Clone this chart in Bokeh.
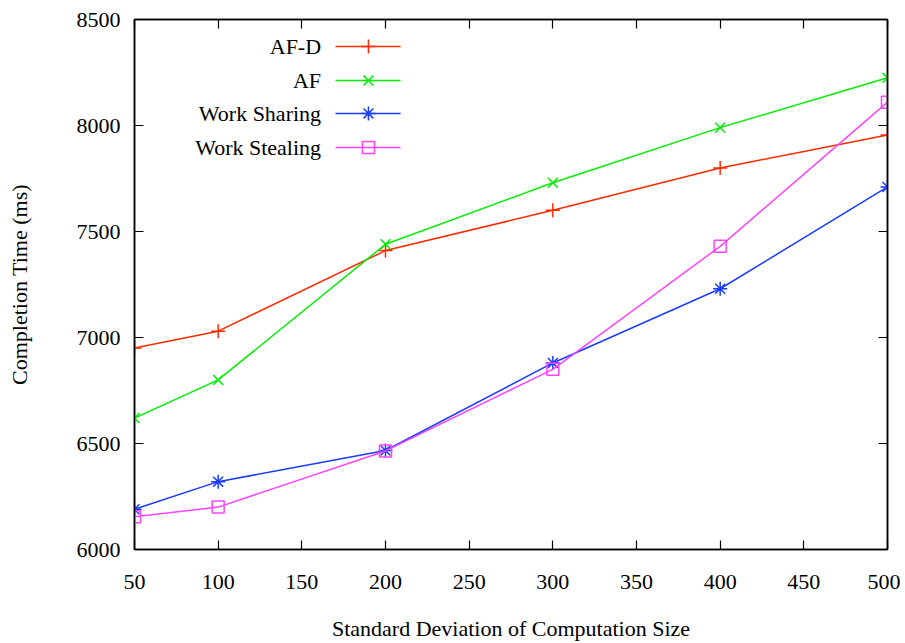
from bokeh.plotting import figure
from bokeh.models import LinearAxis, Range1d, FixedTicker, Label
from bokeh.embed import file_html
from bokeh.resources import INLINE

x_vals = [50, 100, 200, 300, 400, 500]
af_d = [6950, 7030, 7410, 7600, 7800, 7955]
af = [6620, 6800, 7440, 7730, 7990, 8225]
work_sharing = [6190, 6320, 6467, 6880, 7230, 7710]
work_stealing = [6155, 6200, 6465, 6850, 7430, 8110]
series_names = ["AF-D", "AF", "Work Sharing", "Work Stealing"]
x_ticks = [50, 100, 150, 200, 250, 300, 350, 400, 450, 500]
y_ticks = [6000, 6500, 7000, 7500, 8000, 8500]

colors = ["#ff2a00", "#00ee00", "#1a3cff", "#ff44ff"]
markers = ["cross", "x", "asterisk", "square"]
sizes = [14, 14, 14, 12]
FONT = "Liberation Serif"
FS = "22px"

p = figure(width=900, height=643, output_backend="svg", toolbar_location=None,
           x_range=Range1d(50, 500), y_range=Range1d(6000, 8500),
           min_border_left=134, min_border_right=13, min_border_top=19, min_border_bottom=94)
p.grid.visible = False
p.outline_line_color = "black"
p.outline_line_width = 1.5
p.background_fill_color = "white"
p.border_fill_color = "white"

for ax, ticks in ((p.xaxis[0], x_ticks), (p.yaxis[0], y_ticks)):
    ax.ticker = FixedTicker(ticks=ticks)
    ax.major_tick_in = 9
    ax.major_tick_out = 0
    ax.minor_tick_line_color = None
    ax.axis_line_color = "black"
    ax.axis_line_width = 1.5
    ax.major_tick_line_width = 1.2
    ax.major_label_text_font = FONT
    ax.major_label_text_font_size = FS
    ax.major_label_text_color = "black"
    ax.axis_label_text_font = FONT
    ax.axis_label_text_font_size = FS
    ax.axis_label_text_font_style = "normal"
    ax.axis_label_text_color = "black"

p.xaxis[0].axis_label = "Standard Deviation of Computation Size"
p.xaxis[0].major_label_standoff = 25
p.xaxis[0].axis_label_standoff = 24
p.yaxis[0].axis_label = "Completion Time (ms)"
p.yaxis[0].major_label_standoff = 14
p.yaxis[0].axis_label_standoff = 42

top = LinearAxis(ticker=FixedTicker(ticks=x_ticks))
right = LinearAxis(ticker=FixedTicker(ticks=y_ticks))
top.major_label_overrides = {t: "" for t in x_ticks}
right.major_label_overrides = {t: "" for t in y_ticks}
for ax in (top, right):
    ax.major_tick_in = 9
    ax.major_tick_out = 0
    ax.minor_tick_line_color = None
    ax.major_label_standoff = 0
    ax.major_label_text_font_size = "1px"
    ax.axis_line_color = "black"
    ax.axis_line_width = 1.5
    ax.major_tick_line_width = 1.2
p.add_layout(top, "above")
p.add_layout(right, "right")

all_series = [af_d, af, work_sharing, work_stealing]
for ys, c, m, s in zip(all_series, colors, markers, sizes):
    p.line(x_vals, ys, line_color=c, line_width=1.5)
    p.scatter(x_vals, ys, marker=m, size=s, line_color=c, fill_color=None, line_width=1.5)

# manual gnuplot-style legend (label left of sample)
leg_y = [8373, 8212, 8057, 7896]
for name, c, m, s, yy in zip(series_names, colors, markers, sizes, leg_y):
    p.add_layout(Label(x=161.5, y=yy, text=name, text_align="right", text_baseline="middle",
                       text_font=FONT, text_font_size=FS, text_color="black"))
    p.line([170.1, 209.0], [yy, yy], line_color=c, line_width=1.5)
    p.scatter([189.8], [yy], marker=m, size=s, line_color=c, fill_color=None, line_width=1.5)

open("out.html", "w").write(file_html(p, INLINE))
